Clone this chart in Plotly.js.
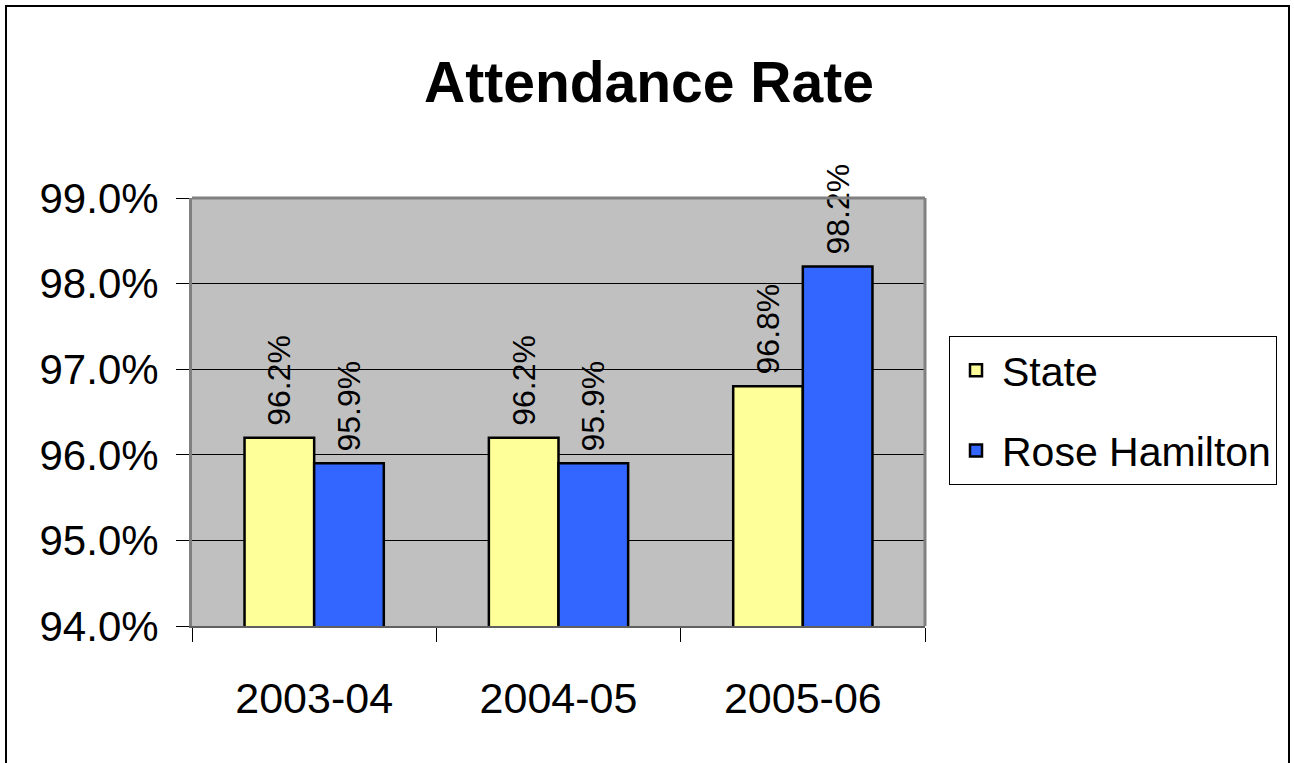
<!DOCTYPE html>
<html>
<head>
<meta charset="utf-8">
<script src="https://cdn.plot.ly/plotly-3.0.1.min.js"></script>
<style>
  html, body { margin: 0; padding: 0; background: #ffffff; }
  #chart { width: 1294px; height: 763px; }
</style>
</head>
<body>
<div id="chart"></div>
<script>
const categories = ['2003-04', '2004-05', '2005-06'];
const stateValues = [96.2, 96.2, 96.8];
const roseValues = [95.9, 95.9, 98.2];
const seriesNames = ['State', 'Rose Hamilton'];
const yTickValues = [94, 95, 96, 97, 98, 99];

const FONT = "'Liberation Sans', Arial, sans-serif";

function barTrace(name, values, color, group) {
  return {
    type: 'bar',
    name: name,
    legendgroup: group,
    x: categories,
    y: values,
    marker: { color: color, line: { color: '#000000', width: 2.5 } },
    text: values.map(v => '\u00A0' + v.toFixed(1) + '%'),
    texttemplate: '%{text}',
    textposition: 'outside',
    textangle: -90,
    constraintext: 'none',
    cliponaxis: false,
    outsidetextfont: { family: FONT, size: 32, color: '#000000' },
    hoverinfo: 'x+y+name'
  };
}

const data = [
  barTrace(seriesNames[0], stateValues, '#FFFF99', 'g1'),
  barTrace(seriesNames[1], roseValues, '#3366FF', 'g2')
];

const layout = {
  width: 1294,
  height: 763,
  margin: { l: 192, r: 369, t: 198, b: 137, autoexpand: false },
  paper_bgcolor: '#ffffff',
  plot_bgcolor: '#C0C0C0',
  font: { family: FONT, color: '#000000' },
  title: {
    text: '<b>Attendance Rate</b>',
    font: { family: FONT, size: 57, color: '#000000' },
    x: 649 / 1294, xanchor: 'center',
    xref: 'container',
    y: 1 - 82 / 763, yanchor: 'middle',
    yref: 'container'
  },
  barmode: 'group',
  bargap: 0.43,
  bargroupgap: 0,
  xaxis: {
    type: 'category',
    showgrid: false,
    ticks: 'outside',
    tickson: 'boundaries',
    ticklen: 14,
    tickwidth: 1,
    tickcolor: '#000000',
    ticklabelstandoff: 33,
    tickfont: { family: FONT, size: 43, color: '#000000' },
    showline: true,
    linecolor: '#606060',
    linewidth: 2,
    mirror: false,
    zeroline: false
  },
  yaxis: {
    range: [94, 99],
    tickvals: yTickValues,
    ticktext: yTickValues.map(v => v.toFixed(1) + '%'),
    ticks: 'outside',
    ticklen: 13,
    tickwidth: 1,
    tickcolor: '#000000',
    ticklabelstandoff: 9,
    tickfont: { family: FONT, size: 42, color: '#000000' },
    showgrid: true,
    gridcolor: '#000000',
    gridwidth: 1,
    showline: true,
    linecolor: '#808080',
    linewidth: 3,
    mirror: false,
    zeroline: false
  },
  showlegend: true,
  legend: {
    x: (949 - 192) / 733,
    xanchor: 'left',
    y: (626 - 336) / 428,
    yanchor: 'top',
    bgcolor: '#ffffff',
    bordercolor: '#000000',
    borderwidth: 1,
    font: { family: FONT, size: 41, color: '#000000' },
    traceorder: 'grouped',
    tracegroupgap: 24,
    itemwidth: 42
  },
  shapes: [
    { type: 'line', xref: 'paper', yref: 'paper', x0: 0, x1: 1, y0: 1, y1: 1,
      line: { color: '#808080', width: 3 } },
    { type: 'line', xref: 'paper', yref: 'paper', x0: 1, x1: 1, y0: 0, y1: 1,
      line: { color: '#808080', width: 3 } },
    { type: 'rect', xref: 'paper', yref: 'paper',
      x0: (6 - 192) / 733, x1: (1289 - 192) / 733,
      y0: -0.5, y1: (626 - 6) / 428,
      line: { color: '#000000', width: 2 }, layer: 'below' }
  ]
};

Plotly.newPlot('chart', data, layout, { displayModeBar: false, staticPlot: true });
</script>
</body>
</html>
